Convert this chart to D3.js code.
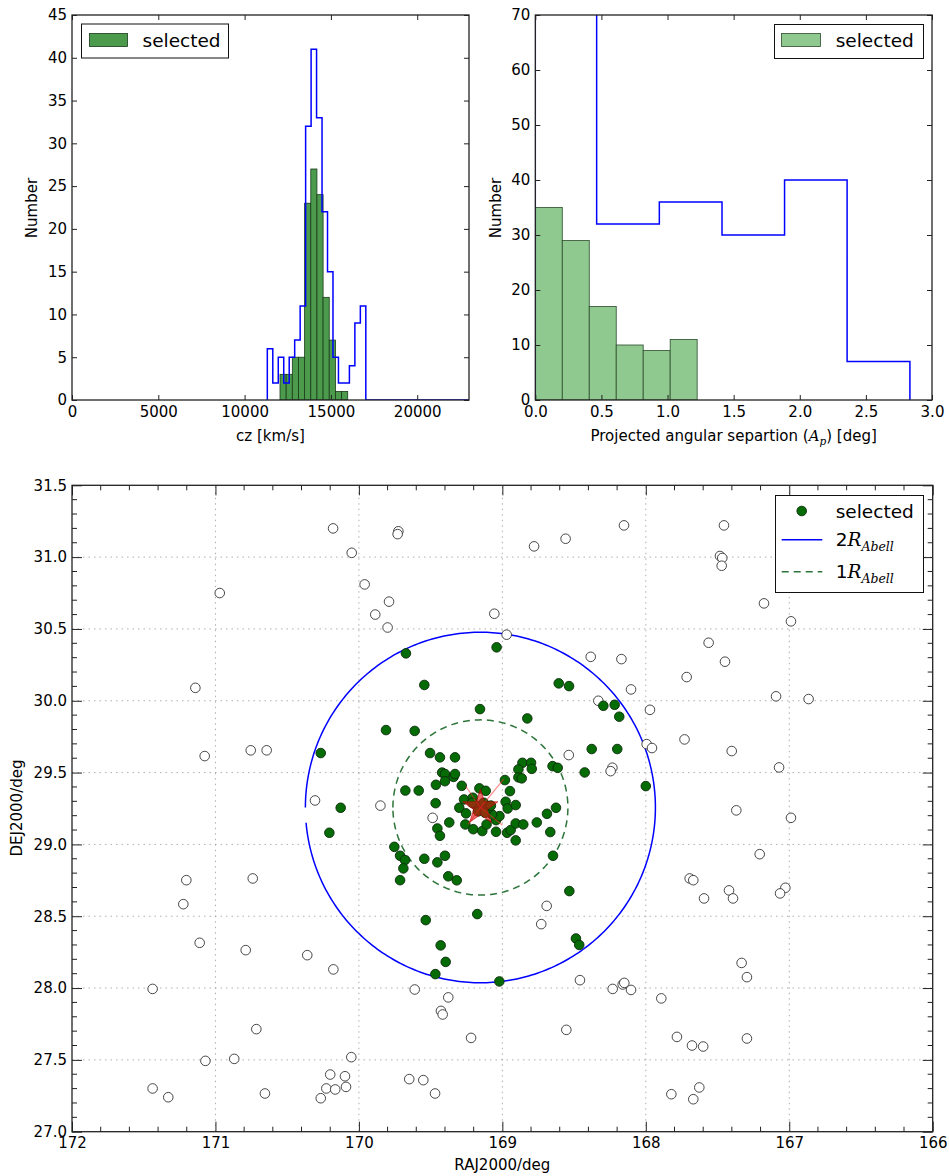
<!DOCTYPE html>
<html>
<head>
<meta charset="utf-8">
<script src="https://cdn.jsdelivr.net/npm/d3@7"></script>
<style>
  body { margin: 0; background: #fff; }
  text { font-family: "DejaVu Sans", sans-serif; fill: #000; }
</style>
</head>
<body>
<div id="chart"></div>
<script>
// ---------- data ----------
// top-left: redshift histograms
const czAllEdges = [11316, 11633, 11950, 12267, 12584, 12901, 13218, 13535, 13852, 14169,
                    14486, 14803, 15120, 15437, 15754, 16071, 16388, 16705, 17022];
const czAllCounts = [6, 2, 5, 2, 5, 7, 11, 32, 41, 33, 22, 15, 5, 2, 2, 4, 9, 11];
const czAllTailEnd = 23000;   // empty bins up to the last galaxy
const czSelEdges = [12051, 12408, 12764, 13121, 13477, 13834, 14190, 14547, 14903, 15260, 15616, 15973];
const czSelCounts = [3, 3, 5, 5, 23, 27, 24, 12, 7, 1, 1];
const czTicks = [0, 5000, 10000, 15000, 20000];
const countTicksLeft = [0, 5, 10, 15, 20, 25, 30, 35, 40, 45];

// top-right: projected separation histograms
const sepSelEdges = [0, 0.204, 0.408, 0.612, 0.816, 1.020, 1.224];
const sepSelCounts = [35, 29, 17, 10, 9, 11];
const sepAllEdges = [0, 0.464, 0.938, 1.412, 1.885, 2.358, 2.833];
const sepAllCounts = [76, 32, 36, 30, 40, 7];
const sepTicks = [0, 0.5, 1.0, 1.5, 2.0, 2.5, 3.0];
const countTicksRight = [0, 10, 20, 30, 40, 50, 60, 70];

// bottom: sky positions [RA, Dec]
const otherGalaxies = [
  [170.18, 31.20], [170.05, 31.03], [169.725, 31.18], [169.73, 31.16], [169.96, 30.81],
  [169.79, 30.69], [169.886, 30.60], [169.80, 30.51], [170.97, 30.75], [171.14, 30.09],
  [171.075, 29.615], [170.754, 29.655], [170.643, 29.655], [170.306, 29.306], [169.85, 29.27],
  [169.486, 29.185], [168.537, 29.622], [168.691, 28.572], [168.729, 28.445], [169.611, 27.99],
  [169.377, 27.935], [168.152, 31.221], [167.455, 31.221], [168.779, 31.075], [168.559, 31.128],
  [167.483, 31.008], [167.467, 30.994], [167.471, 30.94], [169.056, 30.606], [168.97, 30.46],
  [167.176, 30.678], [166.988, 30.553], [167.562, 30.404], [167.448, 30.272], [168.384, 30.306],
  [168.17, 30.29], [167.715, 30.165], [168.103, 30.079], [167.092, 30.031], [166.865, 30.012],
  [168.331, 30.0], [167.971, 29.937], [167.994, 29.698], [167.957, 29.671], [167.73, 29.731],
  [167.401, 29.65], [168.233, 29.534], [168.245, 29.51], [167.071, 29.536], [167.369, 29.237],
  [166.988, 29.185], [167.206, 28.932], [167.694, 28.763], [167.669, 28.751], [167.594, 28.624],
  [167.42, 28.68], [167.392, 28.624], [167.027, 28.698], [167.064, 28.659], [167.332, 28.175],
  [167.295, 28.076], [168.459, 28.055], [168.231, 27.994], [168.161, 28.025], [168.15, 28.036],
  [168.103, 27.987], [167.892, 27.928], [168.554, 27.709], [169.218, 27.653], [167.783, 27.66],
  [167.678, 27.60], [167.60, 27.593], [167.295, 27.649], [167.822, 27.261], [167.669, 27.226],
  [167.627, 27.308], [171.203, 28.751], [170.74, 28.763], [171.224, 28.584], [171.11, 28.315],
  [170.789, 28.264], [170.36, 28.229], [170.178, 28.13], [171.438, 27.994], [169.428, 27.841],
  [169.416, 27.816], [170.715, 27.714], [171.07, 27.493], [170.869, 27.507], [170.053, 27.519],
  [171.438, 27.301], [171.329, 27.24], [170.655, 27.266], [170.2, 27.398], [170.097, 27.386],
  [170.227, 27.301], [170.165, 27.294], [170.09, 27.312], [170.266, 27.233], [169.649, 27.366],
  [169.551, 27.359], [169.469, 27.266]
];
const selectedGalaxies = [
  [169.672, 30.33], [169.544, 30.11], [169.156, 29.942], [169.811, 29.796], [169.611, 29.79],
  [170.266, 29.636], [169.504, 29.636], [169.435, 29.606], [169.33, 29.606], [169.42, 29.50],
  [169.40, 29.49], [169.34, 29.47], [169.33, 29.49], [169.40, 29.44], [169.463, 29.415],
  [169.283, 29.408], [169.676, 29.375], [169.583, 29.375], [170.127, 29.255], [169.465, 29.287],
  [169.267, 29.313], [169.206, 29.325], [169.30, 29.255], [169.253, 29.216], [168.826, 29.877],
  [168.86, 29.568], [168.80, 29.568], [168.888, 29.522], [168.795, 29.526], [168.65, 29.545],
  [168.614, 29.533], [168.888, 29.467], [168.865, 29.46], [168.982, 29.448], [169.16, 29.39],
  [169.116, 29.373], [168.947, 29.371], [168.977, 29.297], [168.963, 29.25], [168.907, 29.274],
  [168.626, 29.255], [168.689, 29.213], [169.37, 29.153], [169.258, 29.139], [169.203, 29.106],
  [169.14, 29.093], [169.11, 29.139], [169.044, 29.169], [169.02, 29.197], [169.072, 29.209],
  [169.044, 29.088], [168.967, 29.081], [168.942, 29.10], [168.907, 29.146], [168.854, 29.139],
  [168.76, 29.153], [168.666, 29.086], [168.907, 29.028], [169.453, 29.111], [169.435, 29.06],
  [169.753, 28.983], [169.713, 28.921], [169.679, 28.891], [169.69, 28.833], [169.544, 28.90],
  [169.453, 28.875], [169.40, 28.921], [168.647, 28.921], [169.377, 28.778], [169.318, 28.75],
  [169.713, 28.751], [168.533, 28.675], [169.175, 28.515], [169.534, 28.473], [169.43, 28.297],
  [169.395, 28.182], [169.467, 28.097], [169.021, 28.046], [168.487, 28.345], [168.464, 28.30],
  [169.04, 30.372], [168.607, 30.121], [168.535, 30.102], [168.296, 29.965], [168.217, 29.972],
  [168.185, 29.889], [168.377, 29.664], [168.199, 29.664], [168.0, 29.406], [168.426, 29.501],
  [170.206, 29.081], [169.18, 29.27], [169.13, 29.29], [169.10, 29.25], [169.17, 29.23],
  [169.12, 29.22], [169.21, 29.29], [169.08, 29.27]
];
const clusterCentre = [169.153, 29.257];
// faint red spokes around the centre marker (end points)
const centreSpokes = [[168.99, 29.455], [169.255, 29.405], [169.24, 29.14], [169.0, 29.135]];
const abellRadius = 0.61;      // deg
const ringGapDeg = 5;          // the 2R ring is not closed on its left side
const raTicks = [172, 171, 170, 169, 168, 167, 166];
const decTicks = [27.0, 27.5, 28.0, 28.5, 29.0, 29.5, 30.0, 30.5, 31.0, 31.5];

// ---------- drawing ----------
const width = 949, height = 1176;
const greenDark = "#4c9a4c", greenLight = "#8fc98f";

const svg = d3.select("#chart").append("svg")
  .attr("width", width).attr("height", height)
  .style("background", "#fff");

// ticks pointing inward on all four sides
function frameAxes(g, x, y, opt) {
  const b = y.range()[0], t = y.range()[1], l = x.range()[0], r = x.range()[1];
  g.append("g").attr("transform", `translate(0,${b})`)
    .call(d3.axisBottom(x).tickValues(opt.xTicks).tickFormat(opt.xFmt)
      .tickSizeInner(-opt.len).tickSizeOuter(0).tickPadding(opt.xPad));
  g.append("g").attr("transform", `translate(0,${t})`)
    .call(d3.axisTop(x).tickValues(opt.xTicks).tickFormat("").tickSizeInner(-opt.len).tickSizeOuter(0));
  g.append("g").attr("transform", `translate(${l},0)`)
    .call(d3.axisLeft(y).tickValues(opt.yTicks).tickFormat(opt.yFmt)
      .tickSizeInner(-opt.len).tickSizeOuter(0).tickPadding(opt.yPad));
  g.append("g").attr("transform", `translate(${r},0)`)
    .call(d3.axisRight(y).tickValues(opt.yTicks).tickFormat("").tickSizeInner(-opt.len).tickSizeOuter(0));
  g.selectAll(".domain").remove();
  g.selectAll(".tick line").attr("stroke", "#222").attr("stroke-width", 1);
  g.selectAll(".tick text").attr("font-size", 15).attr("fill", "#111")
    .style("font-family", "'DejaVu Sans', sans-serif");
  g.append("rect").attr("x", l).attr("y", t).attr("width", r - l).attr("height", b - t)
    .attr("fill", "none").attr("stroke", "#222").attr("stroke-width", 1.3);
}

function stepPath(x, y, edges, counts, tailEnd) {
  const pts = [[edges[0], 0]];
  counts.forEach((c, i) => { pts.push([edges[i], c]); pts.push([edges[i + 1], c]); });
  pts.push([edges[edges.length - 1], 0]);
  if (tailEnd) pts.push([tailEnd, 0]);
  return d3.line().x(d => x(d[0])).y(d => y(d[1]))(pts);
}

function clipFor(id, x, y) {
  svg.append("clipPath").attr("id", id).append("rect")
    .attr("x", x.range()[0]).attr("y", y.range()[1])
    .attr("width", x.range()[1] - x.range()[0]).attr("height", y.range()[0] - y.range()[1]);
}

// ---- top-left: cz ----
{
  const x = d3.scaleLinear().domain([0, 23000]).range([72, 469]);
  const y = d3.scaleLinear().domain([0, 45]).range([400, 15]);
  const g = svg.append("g");
  clipFor("clipCz", x, y);
  const plot = g.append("g").attr("clip-path", "url(#clipCz)");
  plot.selectAll("rect.bar").data(czSelCounts).enter().append("rect")
    .attr("class", "bar")
    .attr("x", (d, i) => x(czSelEdges[i]))
    .attr("width", (d, i) => x(czSelEdges[i + 1]) - x(czSelEdges[i]))
    .attr("y", d => y(d)).attr("height", d => y(0) - y(d))
    .attr("fill", greenDark).attr("stroke", "#1a3a1a").attr("stroke-width", 0.8);
  plot.append("path").attr("d", stepPath(x, y, czAllEdges, czAllCounts, czAllTailEnd))
    .attr("fill", "none").attr("stroke", "#0000ff").attr("stroke-width", 1.5);
  frameAxes(g, x, y, {xTicks: czTicks, yTicks: countTicksLeft, xFmt: d3.format("d"), yFmt: d3.format("d"),
    len: 5, xPad: 6, yPad: 5});
  g.append("text").attr("x", (72 + 469) / 2).attr("y", 441).attr("text-anchor", "middle")
    .attr("font-size", 15).text("cz [km/s]");
  g.append("text").attr("transform", "translate(37,208) rotate(-90)").attr("text-anchor", "middle")
    .attr("font-size", 15).text("Number");
  // legend
  g.append("rect").attr("x", 81.5).attr("y", 24).attr("width", 147).attr("height", 34)
    .attr("fill", "#fff").attr("stroke", "#111").attr("stroke-width", 1);
  g.append("rect").attr("x", 89.5).attr("y", 33.5).attr("width", 38).attr("height", 13)
    .attr("fill", greenDark).attr("stroke", "#1a3a1a").attr("stroke-width", 0.8);
  g.append("text").attr("x", 142.5).attr("y", 47).attr("font-size", 18.5).text("selected");
}

// ---- top-right: projected separation ----
{
  const x = d3.scaleLinear().domain([0, 3]).range([535.3, 932]);
  const y = d3.scaleLinear().domain([0, 70]).range([400, 15]);
  const g = svg.append("g");
  clipFor("clipSep", x, y);
  const plot = g.append("g").attr("clip-path", "url(#clipSep)");
  plot.selectAll("rect.bar").data(sepSelCounts).enter().append("rect")
    .attr("class", "bar")
    .attr("x", (d, i) => x(sepSelEdges[i]))
    .attr("width", (d, i) => x(sepSelEdges[i + 1]) - x(sepSelEdges[i]))
    .attr("y", d => y(d)).attr("height", d => y(0) - y(d))
    .attr("fill", greenLight).attr("stroke", "#2c4a2c").attr("stroke-width", 0.8);
  plot.append("path").attr("d", stepPath(x, y, sepAllEdges, sepAllCounts))
    .attr("fill", "none").attr("stroke", "#0000ff").attr("stroke-width", 1.5);
  frameAxes(g, x, y, {xTicks: sepTicks, yTicks: countTicksRight, xFmt: d3.format(".1f"), yFmt: d3.format("d"),
    len: 5, xPad: 6, yPad: 5});
  const lab = g.append("text").attr("x", (535.3 + 932) / 2).attr("y", 441).attr("text-anchor", "middle")
    .attr("font-size", 15);
  lab.append("tspan").text("Projected angular separtion (");
  lab.append("tspan").attr("font-style", "italic").style("font-family", "'DejaVu Serif', serif").text("A");
  lab.append("tspan").attr("font-style", "italic").style("font-family", "'DejaVu Serif', serif")
    .attr("font-size", 10.5).attr("dy", 4).text("p");
  lab.append("tspan").attr("dy", -4).text(") [deg]");
  g.append("text").attr("transform", "translate(501,208) rotate(-90)").attr("text-anchor", "middle")
    .attr("font-size", 15).text("Number");
  g.append("rect").attr("x", 774.5).attr("y", 24.5).attr("width", 149).attr("height", 34)
    .attr("fill", "#fff").attr("stroke", "#111").attr("stroke-width", 1);
  g.append("rect").attr("x", 781.5).attr("y", 33.5).attr("width", 39).attr("height", 13)
    .attr("fill", greenLight).attr("stroke", "#2c4a2c").attr("stroke-width", 0.8);
  g.append("text").attr("x", 835.7).attr("y", 47).attr("font-size", 18.5).text("selected");
}

// ---- bottom: sky map ----
{
  const x = d3.scaleLinear().domain([172, 166]).range([72, 932.7]);
  const y = d3.scaleLinear().domain([27, 31.5]).range([1131.7, 485.3]);
  const g = svg.append("g");
  clipFor("clipSky", x, y);

  // grid
  const grid = g.append("g").attr("stroke", "#9a9a9a").attr("stroke-width", 0.8)
    .attr("stroke-dasharray", "1.5,4");
  grid.selectAll("line.gx").data(raTicks.slice(1, -1)).enter().append("line")
    .attr("x1", d => x(d)).attr("x2", d => x(d)).attr("y1", y(27)).attr("y2", y(31.5));
  grid.selectAll("line.gy").data(decTicks.slice(1, -1)).enter().append("line")
    .attr("y1", d => y(d)).attr("y2", d => y(d)).attr("x1", x(172)).attr("x2", x(166));

  const plot = g.append("g").attr("clip-path", "url(#clipSky)");

  // circles 2R (solid blue, open near the left) and 1R (dashed green)
  const ring = (r, gap) => d3.range(0, 360 - gap + 0.01, 1).map(a => [
    clusterCentre[0] + r * Math.cos(a * Math.PI / 180),
    clusterCentre[1] + r * Math.sin(a * Math.PI / 180)]);
  const line = d3.line().x(d => x(d[0])).y(d => y(d[1]));
  plot.append("path").attr("d", line(ring(2 * abellRadius, ringGapDeg))).attr("fill", "none")
    .attr("stroke", "#0000ff").attr("stroke-width", 1.5);
  plot.append("path").attr("d", line(ring(abellRadius, 0))).attr("fill", "none")
    .attr("stroke", "#2c7439").attr("stroke-width", 1.5).attr("stroke-dasharray", "7,5");

  plot.selectAll("circle.other").data(otherGalaxies).enter().append("circle")
    .attr("class", "other").attr("cx", d => x(d[0])).attr("cy", d => y(d[1])).attr("r", 4.8)
    .attr("fill", "#fff").attr("stroke", "#333").attr("stroke-width", 0.9);
  plot.selectAll("circle.sel").data(selectedGalaxies).enter().append("circle")
    .attr("class", "sel").attr("cx", d => x(d[0])).attr("cy", d => y(d[1])).attr("r", 4.8)
    .attr("fill", "#056b05").attr("stroke", "#0d2a0d").attr("stroke-width", 0.9);

  // cluster centre marker
  plot.selectAll("line.spoke").data(centreSpokes).enter().append("line")
    .attr("class", "spoke")
    .attr("x1", x(clusterCentre[0])).attr("y1", y(clusterCentre[1]))
    .attr("x2", d => x(d[0])).attr("y2", d => y(d[1]))
    .attr("stroke", "#ff3030").attr("stroke-opacity", 0.55).attr("stroke-width", 1.2);
  plot.append("path").attr("d", d3.symbol(d3.symbolStar).size(380)())
    .attr("transform", `translate(${x(clusterCentre[0])},${y(clusterCentre[1])})`)
    .attr("fill", "#e01010").attr("fill-opacity", 0.6)
    .attr("stroke", "#c00000").attr("stroke-opacity", 0.6);

  frameAxes(g, x, y, {xTicks: raTicks, yTicks: decTicks, xFmt: d3.format("d"), yFmt: d3.format(".1f"),
    len: 10, xPad: 6, yPad: 5});
  // minor ticks
  const minorX = d3.range(1, 30).map(i => 172 - i * 0.2).filter(v => Math.abs(v - Math.round(v)) > 0.01);
  const minorY = d3.range(1, 45).map(i => 27 + i * 0.1).filter(v => Math.abs(v * 2 - Math.round(v * 2)) > 0.01);
  const mt = g.append("g").attr("stroke", "#222").attr("stroke-width", 1);
  mt.selectAll("line.mxb").data(minorX).enter().append("line")
    .attr("x1", d => x(d)).attr("x2", d => x(d)).attr("y1", y(27)).attr("y2", y(27) - 5);
  mt.selectAll("line.mxt").data(minorX).enter().append("line")
    .attr("x1", d => x(d)).attr("x2", d => x(d)).attr("y1", y(31.5)).attr("y2", y(31.5) + 5);
  mt.selectAll("line.myl").data(minorY).enter().append("line")
    .attr("y1", d => y(d)).attr("y2", d => y(d)).attr("x1", x(172)).attr("x2", x(172) + 5);
  mt.selectAll("line.myr").data(minorY).enter().append("line")
    .attr("y1", d => y(d)).attr("y2", d => y(d)).attr("x1", x(166)).attr("x2", x(166) - 5);

  g.append("text").attr("x", (72 + 932.7) / 2).attr("y", 1170).attr("text-anchor", "middle")
    .attr("font-size", 15).text("RAJ2000/deg");
  g.append("text").attr("transform", "translate(22,808) rotate(-90)").attr("text-anchor", "middle")
    .attr("font-size", 15).text("DEJ2000/deg");

  // legend
  const lg = g.append("g");
  lg.append("rect").attr("x", 775.5).attr("y", 495.5).attr("width", 148).attr("height", 97)
    .attr("fill", "#fff").attr("stroke", "#111").attr("stroke-width", 1);
  lg.append("circle").attr("cx", 801.7).attr("cy", 511).attr("r", 4.8)
    .attr("fill", "#056b05").attr("stroke", "#0d2a0d").attr("stroke-width", 0.9);
  lg.append("text").attr("x", 835.7).attr("y", 518).attr("font-size", 18.5).text("selected");
  lg.append("line").attr("x1", 781.7).attr("x2", 822.3).attr("y1", 539.7).attr("y2", 539.7)
    .attr("stroke", "#0000ff").attr("stroke-width", 1.5);
  lg.append("line").attr("x1", 781.7).attr("x2", 822.3).attr("y1", 571.7).attr("y2", 571.7)
    .attr("stroke", "#2c7439").attr("stroke-width", 1.5).attr("stroke-dasharray", "7,5");
  [["2", 546], ["1", 578]].forEach(([n, yy]) => {
    const t = lg.append("text").attr("x", 835.7).attr("y", yy).attr("font-size", 18.5);
    t.append("tspan").text(n);
    t.append("tspan").attr("font-style", "italic").style("font-family", "'DejaVu Serif', serif").text("R");
    t.append("tspan").attr("font-style", "italic").style("font-family", "'DejaVu Serif', serif")
      .attr("font-size", 12.5).attr("dy", 5).text("Abell");
  });
}
</script>
</body>
</html>
